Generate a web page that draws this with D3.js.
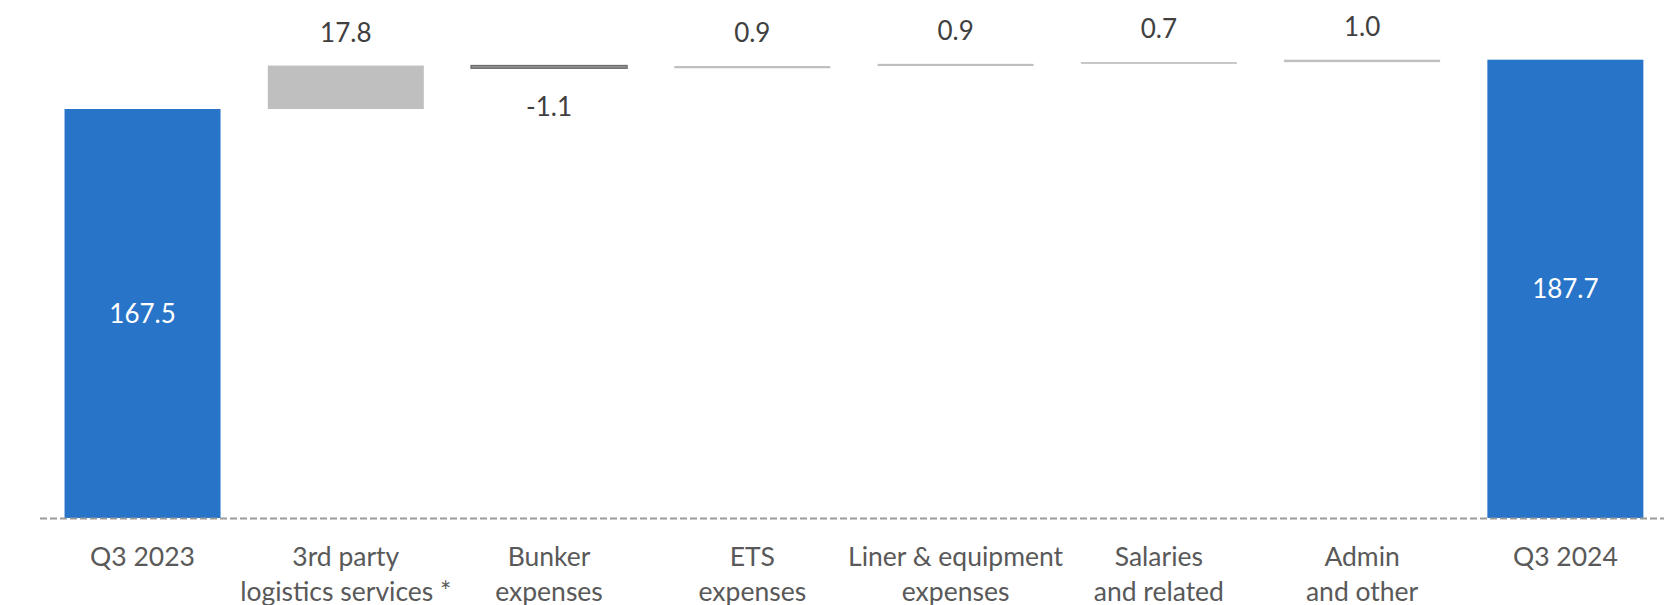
<!DOCTYPE html>
<html>
<head>
<meta charset="utf-8">
<script src="https://cdn.jsdelivr.net/npm/d3@7"></script>
<style>
  html, body { margin: 0; padding: 0; background: #ffffff; }
  svg { display: block; }
  text { font-family: Lato, "Open Sans", sans-serif; }
</style>
</head>
<body>
<svg id="chart" width="1664" height="605"></svg>
<script>
// Cost bridge, Q3 2023 -> Q3 2024
const categories = [
  ["Q3 2023"],
  ["3rd party", "logistics services *"],
  ["Bunker", "expenses"],
  ["ETS", "expenses"],
  ["Liner & equipment", "expenses"],
  ["Salaries", "and related"],
  ["Admin", "and other"],
  ["Q3 2024"]
];
const kinds = ["total", "delta", "delta", "delta", "delta", "delta", "delta", "total"];
const values = [167.5, 17.8, -1.1, 0.9, 0.9, 0.7, 1.0, 187.7];
const valueLabels = ["167.5", "17.8", "-1.1", "0.9", "0.9", "0.7", "1.0", "187.7"];

const W = 1664, H = 605;
const svg = d3.select("#chart");

// Build running start/end for each step of the bridge
let running = 0;
const steps = values.map((v, i) => {
  let start, end;
  if (kinds[i] === "total") { start = 0; end = v; running = v; }
  else { start = running; end = running + v; running = end; }
  return { i, v, kind: kinds[i], start, end, label: valueLabels[i], cat: categories[i] };
});

const x = d3.scaleBand()
  .domain(d3.range(categories.length))
  .range([40.9, 1667])
  .paddingInner(0.2325)
  .paddingOuter(0.11625);

const y = d3.scaleLinear()
  .domain([0, 187.7])
  .range([518, 59.7]);

const blue = "#2874C8";
const grey = "#BFBFBF";

function fillFor(d) {
  if (d.kind === "total") return blue;
  return d.v < 0 ? "#9A9A9A" : grey;
}

// Bars
svg.append("g").selectAll("rect")
  .data(steps)
  .join("rect")
  .attr("x", d => x(d.i))
  .attr("width", x.bandwidth())
  .attr("y", d => y(Math.max(d.start, d.end)))
  .attr("height", d => Math.max(0.8, Math.abs(y(d.start) - y(d.end))))
  .attr("fill", fillFor)
  .attr("stroke", d => (d.kind === "delta" && d.v < 0) ? "#6E6E6E" : "none")
  .attr("stroke-width", 1.4);

// Baseline (dashed category axis)
svg.append("line")
  .attr("x1", 40).attr("x2", W)
  .attr("y1", y(0) + 0.5).attr("y2", y(0) + 0.5)
  .attr("stroke", "#9A9A9A")
  .attr("stroke-width", 2.2)
  .attr("stroke-dasharray", "7,3");

// Value labels
const lbl = svg.append("g").attr("font-size", 26);
steps.forEach(d => {
  const cx = x(d.i) + x.bandwidth() / 2;
  if (d.kind === "total") {
    lbl.append("text")
      .attr("x", cx)
      .attr("y", (y(0) + y(d.end)) / 2)
      .attr("dy", "0.36em")
      .attr("text-anchor", "middle")
      .attr("fill", "#ffffff")
      .text(d.label);
  } else if (d.v >= 0) {
    lbl.append("text")
      .attr("x", cx)
      .attr("y", y(d.end) - 24)
      .attr("text-anchor", "middle")
      .attr("fill", "#404040")
      .text(d.label);
  } else {
    lbl.append("text")
      .attr("x", cx)
      .attr("y", y(d.end) + 48)
      .attr("text-anchor", "middle")
      .attr("fill", "#404040")
      .text(d.label);
  }
});

// Category labels (two lines where needed)
const cat = svg.append("g").attr("font-size", 26.5).attr("fill", "#595959");
steps.forEach(d => {
  const t = cat.append("text")
    .attr("x", x(d.i) + x.bandwidth() / 2)
    .attr("y", 566)
    .attr("text-anchor", "middle");
  d.cat.forEach((line, k) => {
    t.append("tspan")
      .attr("x", x(d.i) + x.bandwidth() / 2)
      .attr("y", 566 + k * 35)
      .text(line);
  });
});
</script>
</body>
</html>
